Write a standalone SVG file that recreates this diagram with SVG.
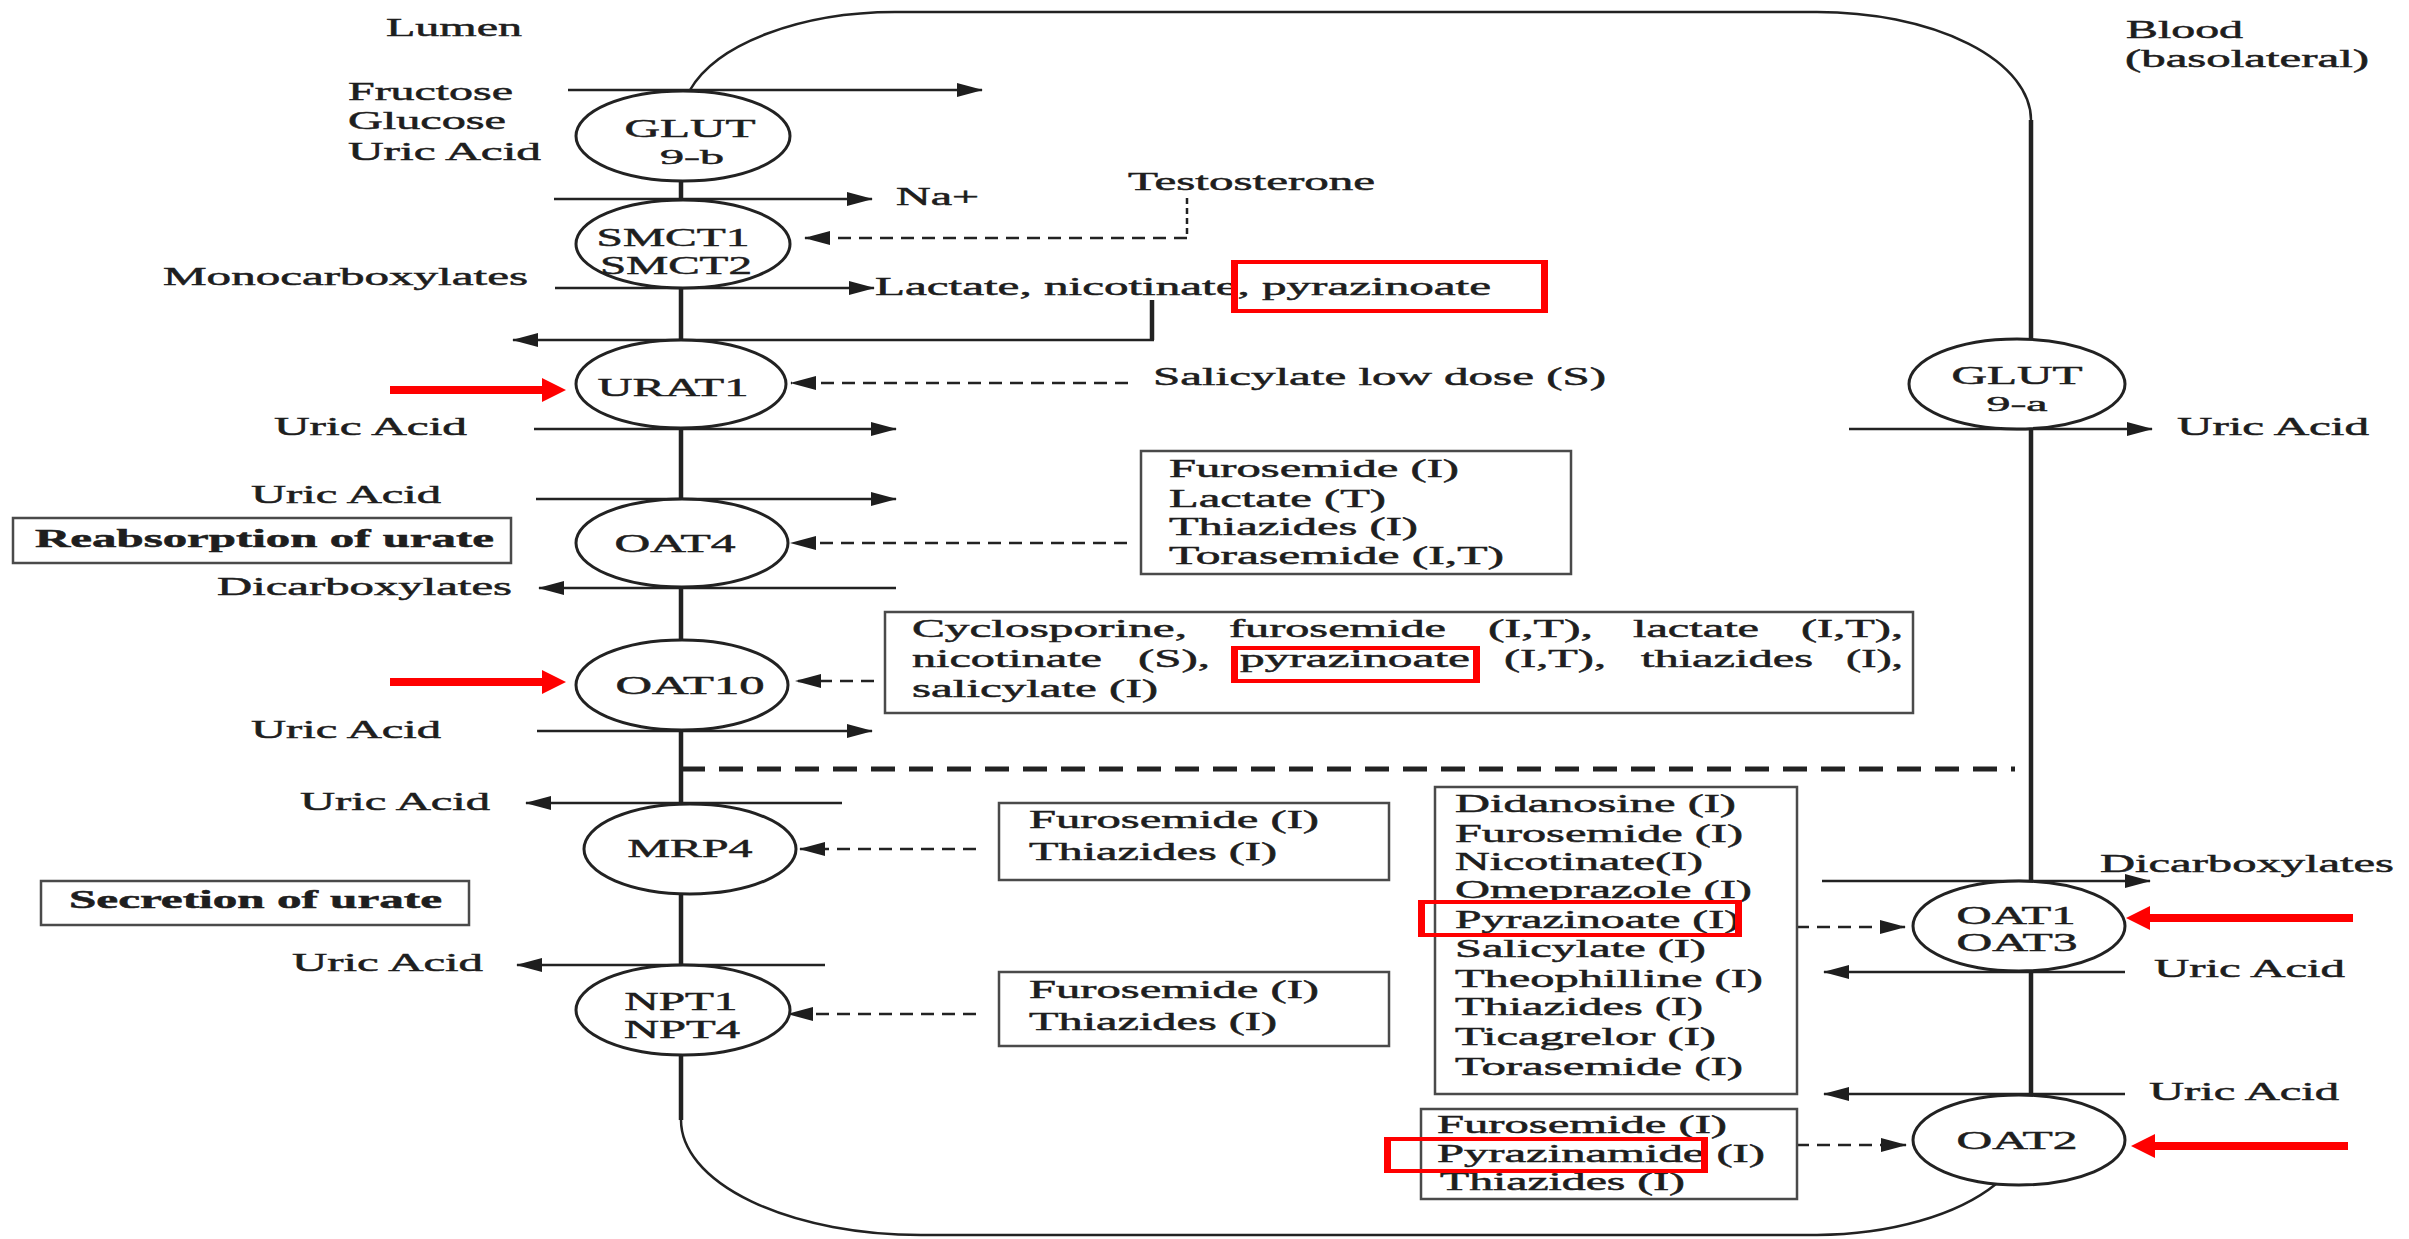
<svg xmlns="http://www.w3.org/2000/svg" width="2409" height="1239" viewBox="0 0 2409 1239">
<style>
text { font-family: "Liberation Serif", "Times New Roman", serif; fill: #1e1e1e; stroke: #1e1e1e; stroke-width: 0.5; }
.t { font-size: 25px; }
.b { font-size: 25px; font-weight: bold; }
.n { font-size: 26px; text-anchor: middle; }
.ns { font-size: 22px; text-anchor: middle; }
.ln { stroke: #222; stroke-width: 2.5; fill: none; }
.vl { stroke: #222; stroke-width: 4.5; fill: none; }
.arr { marker-end: url(#ah); }
.dash { stroke-dasharray: 13 8; }
.box { fill: none; stroke: #4a4a4a; stroke-width: 2.5; }
.node { fill: #fff; stroke: #222; stroke-width: 3; }
.red { fill: #ff0000; fill-rule: evenodd; }
</style>
<defs>
<marker id="ah" markerUnits="userSpaceOnUse" markerWidth="26" markerHeight="14" refX="25" refY="7" orient="auto">
<path d="M0,0 L26,7 L0,14 z" fill="#1e1e1e"/>
</marker>
</defs>
<rect width="2409" height="1239" fill="#fff"/>

<g id="cell">
<path class="ln" d="M690 90 A214 108 0 0 1 895 12 H1817 A214 108 0 0 1 2031 120"/>
<path class="ln" d="M1996 1184 A214 108 0 0 1 1817 1235 H921 A240 115 0 0 1 681 1120"/>
<path class="vl" d="M681 181 V1120"/>
<path class="vl" d="M2031 120 V1095"/>
</g>

<g id="connectors">
<path class="ln arr" d="M568 90 H982"/>
<path class="ln arr" d="M554 199 H872"/>
<path class="ln arr" d="M555 288 H874"/>
<path class="vl" d="M1152 300 V340"/>
<path class="ln arr" d="M1154 340 H513"/>
<path class="ln arr" d="M534 429 H896"/>
<path class="ln arr" d="M536 499 H896"/>
<path class="ln arr" d="M896 588 H539"/>
<path class="ln arr" d="M537 731 H872"/>
<path class="ln arr" d="M842 803 H526"/>
<path class="ln arr" d="M825 965 H517"/>
<path class="ln arr" d="M1849 429 H2152"/>
<path class="ln arr" d="M1822 881 H2150"/>
<path class="ln arr" d="M2125 972 H1824"/>
<path class="ln arr" d="M2125 1094 H1824"/>
<path class="ln" stroke-dasharray="6 4" d="M1187 198 V238"/>
<path class="ln dash arr" d="M1187 238 H805"/>
<path class="ln dash arr" d="M1128 383 H791"/>
<path class="ln dash arr" d="M1127 543 H791"/>
<path class="ln dash arr" d="M874 681 H796"/>
<path class="ln dash arr" d="M976 849 H800"/>
<path class="ln dash arr" d="M976 1014 H788"/>
<path class="ln dash arr" d="M1796 927 H1905"/>
<path class="ln dash arr" d="M1796 1145 H1906"/>
<path d="M681 769 H2015" stroke="#222" stroke-width="5" stroke-dasharray="24 14" fill="none"/>
</g>

<g id="labels">
<text class="t" x="386" y="36" textLength="136" lengthAdjust="spacingAndGlyphs">Lumen</text>
<text class="t" x="348" y="100" textLength="165" lengthAdjust="spacingAndGlyphs">Fructose</text>
<text class="t" x="348" y="129" textLength="158" lengthAdjust="spacingAndGlyphs">Glucose</text>
<text class="t" x="348" y="160" textLength="193" lengthAdjust="spacingAndGlyphs">Uric Acid</text>
<text class="t" x="896" y="205" textLength="83" lengthAdjust="spacingAndGlyphs">Na+</text>
<text class="t" x="1128" y="190" textLength="247" lengthAdjust="spacingAndGlyphs">Testosterone</text>
<text class="t" x="163" y="285" textLength="365" lengthAdjust="spacingAndGlyphs">Monocarboxylates</text>
<text class="t" x="875" y="295" textLength="616" lengthAdjust="spacingAndGlyphs">Lactate, nicotinate, pyrazinoate</text>
<text class="t" x="1153" y="385" textLength="453" lengthAdjust="spacingAndGlyphs">Salicylate low dose (S)</text>
<text class="t" x="274" y="435" textLength="193" lengthAdjust="spacingAndGlyphs">Uric Acid</text>
<text class="t" x="251" y="503" textLength="190" lengthAdjust="spacingAndGlyphs">Uric Acid</text>
<text class="t" x="217" y="595" textLength="295" lengthAdjust="spacingAndGlyphs">Dicarboxylates</text>
<text class="t" x="251" y="738" textLength="190" lengthAdjust="spacingAndGlyphs">Uric Acid</text>
<text class="t" x="300" y="810" textLength="190" lengthAdjust="spacingAndGlyphs">Uric Acid</text>
<text class="t" x="292" y="971" textLength="191" lengthAdjust="spacingAndGlyphs">Uric Acid</text>
<text class="t" x="2126" y="38" textLength="117" lengthAdjust="spacingAndGlyphs">Blood</text>
<text class="t" x="2125" y="67" textLength="244" lengthAdjust="spacingAndGlyphs">(basolateral)</text>
<text class="t" x="2177" y="435" textLength="192" lengthAdjust="spacingAndGlyphs">Uric Acid</text>
<text class="t" x="2100" y="872" textLength="294" lengthAdjust="spacingAndGlyphs">Dicarboxylates</text>
<text class="t" x="2154" y="977" textLength="191" lengthAdjust="spacingAndGlyphs">Uric Acid</text>
<text class="t" x="2149" y="1100" textLength="190" lengthAdjust="spacingAndGlyphs">Uric Acid</text>
</g>

<g id="reabsorption">
<rect class="box" x="13" y="518" width="498" height="45"/>
<text class="b" x="35" y="547" textLength="459" lengthAdjust="spacingAndGlyphs">Reabsorption of urate</text>
</g>
<g id="secretion">
<rect class="box" x="41" y="881" width="428" height="44"/>
<text class="b" x="69" y="908" textLength="373" lengthAdjust="spacingAndGlyphs">Secretion of urate</text>
</g>

<g id="glut9b">
<ellipse class="node" cx="683" cy="136" rx="107" ry="45"/>
<text class="n" x="690" y="137" textLength="131" lengthAdjust="spacingAndGlyphs">GLUT</text>
<text class="ns" x="692" y="164" textLength="64" lengthAdjust="spacingAndGlyphs">9-b</text>
</g>
<g id="smct">
<ellipse class="node" cx="683" cy="244" rx="107" ry="44"/>
<text class="n" x="673" y="246" textLength="153" lengthAdjust="spacingAndGlyphs">SMCT1</text>
<text class="n" x="676" y="274" textLength="152" lengthAdjust="spacingAndGlyphs">SMCT2</text>
</g>
<g id="urat1">
<ellipse class="node" cx="681" cy="384" rx="105" ry="44"/>
<text class="n" x="673" y="396" textLength="151" lengthAdjust="spacingAndGlyphs">URAT1</text>
</g>
<g id="oat4">
<ellipse class="node" cx="682" cy="543" rx="106" ry="44"/>
<text class="n" x="675" y="552" textLength="121" lengthAdjust="spacingAndGlyphs">OAT4</text>
</g>
<g id="oat10">
<ellipse class="node" cx="682" cy="685" rx="106" ry="45"/>
<text class="n" x="690" y="694" textLength="149" lengthAdjust="spacingAndGlyphs">OAT10</text>
</g>
<g id="mrp4">
<ellipse class="node" cx="690" cy="849" rx="106" ry="45"/>
<text class="n" x="690" y="857" textLength="125" lengthAdjust="spacingAndGlyphs">MRP4</text>
</g>
<g id="npt">
<ellipse class="node" cx="683" cy="1010" rx="107" ry="45"/>
<text class="n" x="681" y="1010" textLength="113" lengthAdjust="spacingAndGlyphs">NPT1</text>
<text class="n" x="682" y="1038" textLength="116" lengthAdjust="spacingAndGlyphs">NPT4</text>
</g>
<g id="glut9a">
<ellipse class="node" cx="2017" cy="384" rx="108" ry="45"/>
<text class="n" x="2017" y="384" textLength="131" lengthAdjust="spacingAndGlyphs">GLUT</text>
<text class="ns" x="2017" y="411" textLength="61" lengthAdjust="spacingAndGlyphs">9-a</text>
</g>
<g id="oat1">
<ellipse class="node" cx="2019" cy="926" rx="106" ry="45"/>
<text class="n" x="2016" y="924" textLength="119" lengthAdjust="spacingAndGlyphs">OAT1</text>
<text class="n" x="2017" y="951" textLength="121" lengthAdjust="spacingAndGlyphs">OAT3</text>
</g>
<g id="oat2">
<ellipse class="node" cx="2019" cy="1140" rx="106" ry="45"/>
<text class="n" x="2017" y="1149" textLength="121" lengthAdjust="spacingAndGlyphs">OAT2</text>
</g>

<g id="box-oat4">
<rect class="box" x="1141" y="451" width="430" height="123"/>
<text class="t" x="1169" y="477" textLength="290" lengthAdjust="spacingAndGlyphs">Furosemide (I)</text>
<text class="t" x="1169" y="507" textLength="217" lengthAdjust="spacingAndGlyphs">Lactate (T)</text>
<text class="t" x="1169" y="535" textLength="249" lengthAdjust="spacingAndGlyphs">Thiazides (I)</text>
<text class="t" x="1169" y="564" textLength="335" lengthAdjust="spacingAndGlyphs">Torasemide (I,T)</text>
</g>
<g id="box-oat10">
<rect class="box" x="885" y="612" width="1028" height="101"/>
<text class="t" x="912" y="637" textLength="275" lengthAdjust="spacingAndGlyphs">Cyclosporine,</text>
<text class="t" x="1229" y="637" textLength="217" lengthAdjust="spacingAndGlyphs">furosemide</text>
<text class="t" x="1488" y="637" textLength="105" lengthAdjust="spacingAndGlyphs">(I,T),</text>
<text class="t" x="1633" y="637" textLength="126" lengthAdjust="spacingAndGlyphs">lactate</text>
<text class="t" x="1801" y="637" textLength="102" lengthAdjust="spacingAndGlyphs">(I,T),</text>
<text class="t" x="912" y="667" textLength="190" lengthAdjust="spacingAndGlyphs">nicotinate</text>
<text class="t" x="1138" y="667" textLength="72" lengthAdjust="spacingAndGlyphs">(S),</text>
<text class="t" x="1240" y="667" textLength="230" lengthAdjust="spacingAndGlyphs">pyrazinoate</text>
<text class="t" x="1504" y="667" textLength="102" lengthAdjust="spacingAndGlyphs">(I,T),</text>
<text class="t" x="1641" y="667" textLength="172" lengthAdjust="spacingAndGlyphs">thiazides</text>
<text class="t" x="1846" y="667" textLength="57" lengthAdjust="spacingAndGlyphs">(I),</text>
<text class="t" x="912" y="697" textLength="246" lengthAdjust="spacingAndGlyphs">salicylate (I)</text>
</g>
<g id="box-mrp4">
<rect class="box" x="999" y="803" width="390" height="77"/>
<text class="t" x="1029" y="828" textLength="290" lengthAdjust="spacingAndGlyphs">Furosemide (I)</text>
<text class="t" x="1029" y="860" textLength="248" lengthAdjust="spacingAndGlyphs">Thiazides (I)</text>
</g>
<g id="box-npt">
<rect class="box" x="999" y="972" width="390" height="74"/>
<text class="t" x="1029" y="998" textLength="290" lengthAdjust="spacingAndGlyphs">Furosemide (I)</text>
<text class="t" x="1029" y="1030" textLength="248" lengthAdjust="spacingAndGlyphs">Thiazides (I)</text>
</g>
<g id="box-oat1">
<rect class="box" x="1435" y="787" width="362" height="307"/>
<text class="t" x="1455" y="812" textLength="281" lengthAdjust="spacingAndGlyphs">Didanosine (I)</text>
<text class="t" x="1455" y="842" textLength="288" lengthAdjust="spacingAndGlyphs">Furosemide (I)</text>
<text class="t" x="1455" y="870" textLength="248" lengthAdjust="spacingAndGlyphs">Nicotinate(I)</text>
<text class="t" x="1455" y="898" textLength="297" lengthAdjust="spacingAndGlyphs">Omeprazole (I)</text>
<text class="t" x="1455" y="928" textLength="285" lengthAdjust="spacingAndGlyphs">Pyrazinoate (I)</text>
<text class="t" x="1455" y="957" textLength="251" lengthAdjust="spacingAndGlyphs">Salicylate (I)</text>
<text class="t" x="1455" y="987" textLength="308" lengthAdjust="spacingAndGlyphs">Theophilline (I)</text>
<text class="t" x="1455" y="1015" textLength="248" lengthAdjust="spacingAndGlyphs">Thiazides (I)</text>
<text class="t" x="1455" y="1045" textLength="261" lengthAdjust="spacingAndGlyphs">Ticagrelor (I)</text>
<text class="t" x="1455" y="1075" textLength="288" lengthAdjust="spacingAndGlyphs">Torasemide (I)</text>
</g>
<g id="box-oat2">
<rect class="box" x="1421" y="1109" width="376" height="90"/>
<text class="t" x="1437" y="1133" textLength="290" lengthAdjust="spacingAndGlyphs">Furosemide (I)</text>
<text class="t" x="1437" y="1162" textLength="328" lengthAdjust="spacingAndGlyphs">Pyrazinamide (I)</text>
<text class="t" x="1440" y="1190" textLength="245" lengthAdjust="spacingAndGlyphs">Thiazides (I)</text>
</g>

<g id="highlights">
<path class="red" d="M1231 260 H1548 V313 H1231 Z M1238 264 V309 H1541 V264 Z"/>
<path class="red" d="M1231 646 H1480 V683 H1231 Z M1238 650 V679 H1473 V650 Z"/>
<path class="red" d="M1418 900 H1742 V937 H1418 Z M1425 904 V933 H1735 V904 Z"/>
<path class="red" d="M1384 1137 H1708 V1173 H1384 Z M1391 1141 V1169 H1701 V1141 Z"/>
<polygon class="red" points="390,386 542,386 542,378 566,390 542,402 542,394 390,394"/>
<polygon class="red" points="390,678 542,678 542,670 566,682 542,694 542,686 390,686"/>
<polygon class="red" points="2353,914 2150,914 2150,906 2126,918 2150,930 2150,922 2353,922"/>
<polygon class="red" points="2348,1142 2155,1142 2155,1134 2131,1146 2155,1158 2155,1150 2348,1150"/>
</g>
</svg>
